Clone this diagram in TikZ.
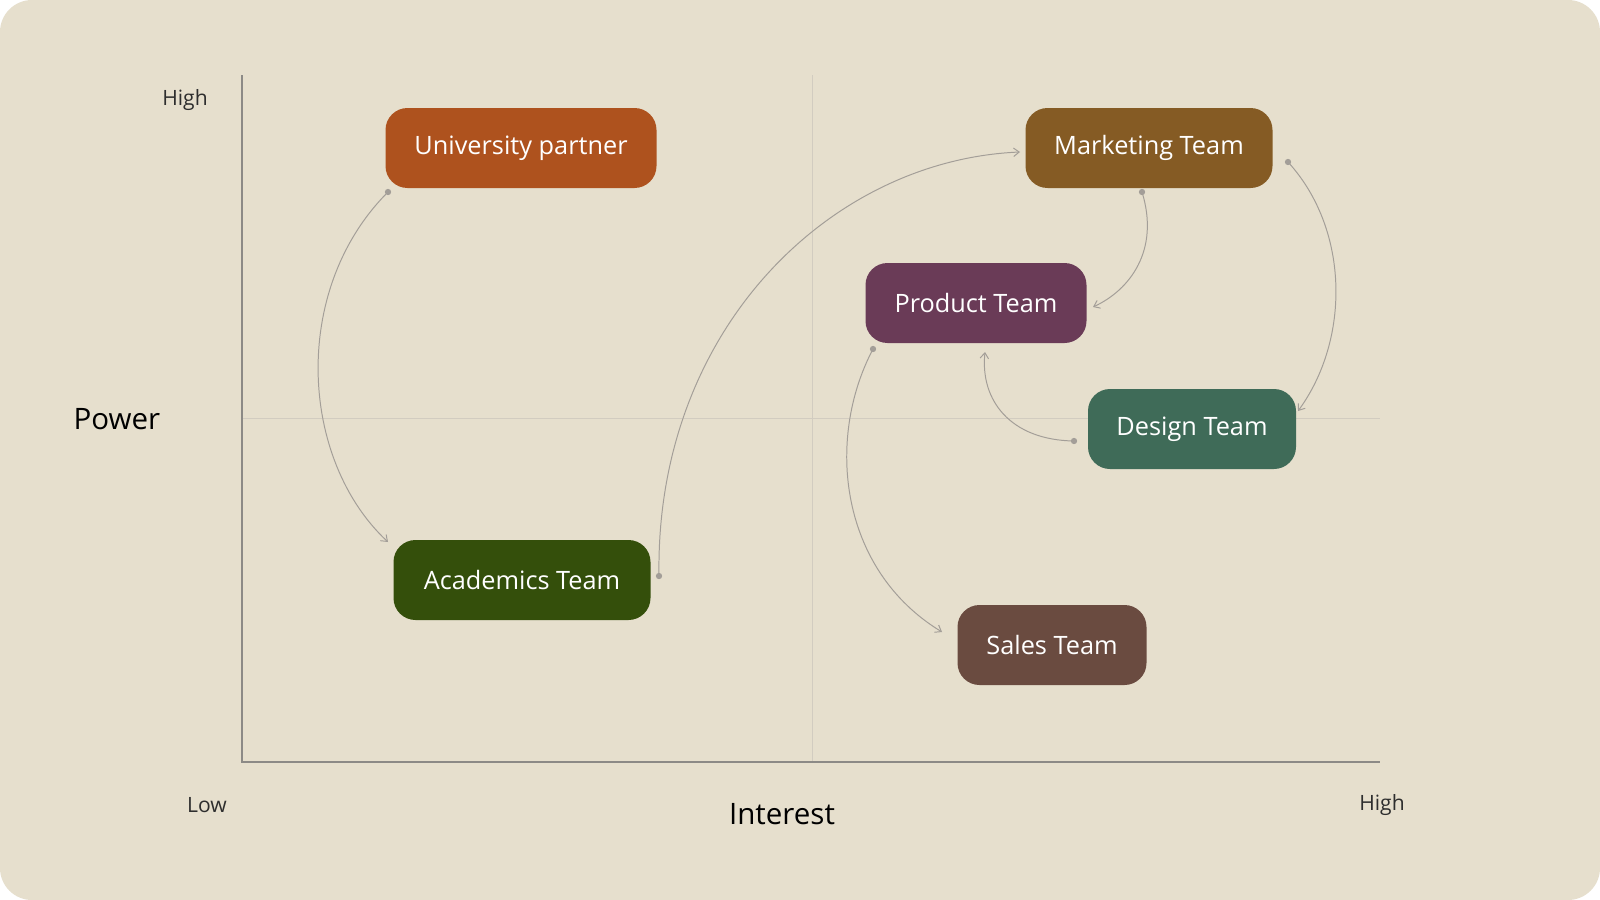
\documentclass[tikz,border=0pt]{standalone}
\usepackage{fontspec}
\setmainfont{Open Sans}
\usetikzlibrary{arrows.meta}
\definecolor{bg}{HTML}{E6DFCD}
\definecolor{gridc}{HTML}{D2CCC0}
\definecolor{axc}{HTML}{8C8A86}
\definecolor{conn}{HTML}{A39E98}
\definecolor{txt}{HTML}{2E2E2E}
\definecolor{cUni}{HTML}{AE521E}
\definecolor{cMkt}{HTML}{855B24}
\definecolor{cPrd}{HTML}{6A3B57}
\definecolor{cDes}{HTML}{3F6B58}
\definecolor{cAca}{HTML}{344F0B}
\definecolor{cSal}{HTML}{6A4B40}
\begin{document}
\begin{tikzpicture}[x=0.05cm,y=-0.05cm,
  box/.style={rounded corners=11mm,minimum height=4cm,text=white,inner sep=0pt,
    font=\fontsize{36}{40}\selectfont},
  lab/.style={text=txt,font=\fontsize{30}{34}\selectfont},
  big/.style={text=black,font=\fontsize{42}{46}\selectfont},
  link/.style={draw=conn,line width=1.4pt,-{Straight Barb[length=8pt,width=12pt]}},
  dot/.style={circle,fill=conn,inner sep=0pt,minimum size=9pt}]
\useasboundingbox (0,0) rectangle (1600,900);
\fill[white] (0,0) rectangle (1600,900);
\fill[bg,rounded corners=1.6cm] (0,0) rectangle (1600,900);
% grid
\draw[gridc,line width=1.2pt] (812,75) -- (812,762);
\draw[gridc,line width=1.2pt] (242,418) -- (1380,418);
\draw[axc,line width=1.6pt] (242,75) -- (242,762) -- (1380,762);
% labels
\node[lab] (hi1) at (185,100) {High};
\node[big] (pow) at (117,419) {Power};
\node[lab] (low) at (207,805) {Low};
\node[big] (int) at (782,814) {Interest};
\node[lab] (hi2) at (1382,805) {High};
% boxes
\node[box,fill=cUni,minimum width=271*0.05cm] (uni) at (521,148) {University partner};
\node[box,fill=cMkt,minimum width=247*0.05cm] (mkt) at (1149,148) {Marketing Team};
\node[box,fill=cPrd,minimum width=221*0.05cm] (prd) at (976,303) {Product Team};
\node[box,fill=cDes,minimum width=208*0.05cm] (des) at (1192,429) {Design Team};
\node[box,fill=cAca,minimum width=257*0.05cm] (aca) at (522,580) {Academics Team};
\node[box,fill=cSal,minimum width=189*0.05cm] (sal) at (1052,645) {Sales Team};
% endpoints
\coordinate (a1) at (388,192); \coordinate (b1) at (388,542);
\coordinate (a2) at (659,576); \coordinate (b2) at (1020,152);
\coordinate (a3) at (1142,192); \coordinate (b3) at (1093,307);
\coordinate (a4) at (1288,162); \coordinate (b4) at (1298,411);
\coordinate (a5) at (1074,441); \coordinate (b5) at (985,352);
\coordinate (a6) at (873,349); \coordinate (b6) at (942,632);
\draw[link] (a1) .. controls (290,290) and (300,460) .. (b1);
\draw[link] (a2) .. controls (655,330) and (830,160) .. (b2);
\draw[link] (a3) .. controls (1160,250) and (1130,290) .. (b3);
\draw[link] (a4) .. controls (1350,230) and (1350,340) .. (b4);
\draw[link] (a5) .. controls (1010,440) and (980,400) .. (b5);
\draw[link] (a6) .. controls (825,440) and (840,570) .. (b6);
\foreach \p in {a1,a2,a3,a4,a5,a6} \node[dot] at (\p) {};
\end{tikzpicture}
\end{document}
